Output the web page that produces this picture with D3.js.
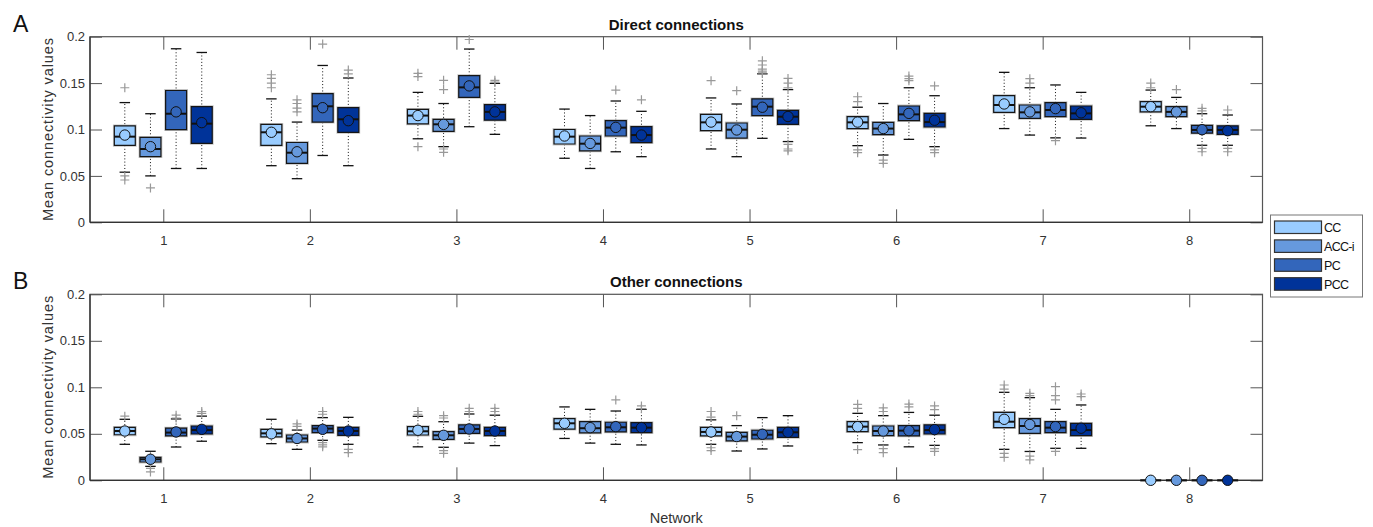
<!DOCTYPE html>
<html>
<head>
<meta charset="utf-8">
<script src="https://cdn.jsdelivr.net/npm/d3@7/dist/d3.min.js"></script>
<style>
  body { margin: 0; background: #fff; }
  text { font-family: "Liberation Sans", Arial, sans-serif; }
</style>
</head>
<body>
<div id="chart"></div>
<script>
// networks and methods
var networks = [1, 2, 3, 4, 5, 6, 7, 8];
var methods = ["CC", "ACC-i", "PC", "PCC"];
var yTicks = [0, 0.05, 0.1, 0.15, 0.2];

// each row: [lower whisker, q1, median, q3, upper whisker, mean]
var directCC = [
  [0.054, 0.083, 0.0923, 0.104, 0.129, 0.094],
  [0.061, 0.083, 0.097, 0.1056, 0.133, 0.097],
  [0.090, 0.106, 0.115, 0.1217, 0.140, 0.115],
  [0.069, 0.0844, 0.0923, 0.100, 0.122, 0.093],
  [0.079, 0.0987, 0.1077, 0.1163, 0.134, 0.108],
  [0.0826, 0.101, 0.1077, 0.1138, 0.124, 0.108],
  [0.101, 0.1185, 0.1264, 0.1364, 0.1616, 0.1275],
  [0.104, 0.119, 0.1246, 0.130, 0.1425, 0.1246]
];
var directACC = [
  [0.050, 0.0707, 0.079, 0.0916, 0.117, 0.0815],
  [0.047, 0.0636, 0.075, 0.086, 0.108, 0.076],
  [0.0815, 0.098, 0.1056, 0.111, 0.128, 0.1055],
  [0.058, 0.077, 0.0847, 0.093, 0.115, 0.085],
  [0.0707, 0.0908, 0.0998, 0.107, 0.1275, 0.0995],
  [0.0725, 0.0944, 0.101, 0.1077, 0.128, 0.101],
  [0.094, 0.112, 0.1185, 0.1264, 0.145, 0.119],
  [0.101, 0.1138, 0.119, 0.1246, 0.1346, 0.119]
];
var directPC = [
  [0.058, 0.0998, 0.117, 0.142, 0.187, 0.119],
  [0.072, 0.108, 0.125, 0.1386, 0.169, 0.1235],
  [0.103, 0.1347, 0.1454, 0.158, 0.1867, 0.147],
  [0.076, 0.093, 0.102, 0.1095, 0.1307, 0.1023],
  [0.0905, 0.115, 0.1246, 0.133, 0.160, 0.124],
  [0.0894, 0.1095, 0.1163, 0.1253, 0.145, 0.1174],
  [0.091, 0.1138, 0.121, 0.129, 0.148, 0.1225],
  [0.083, 0.096, 0.0995, 0.1045, 0.117, 0.0998]
];
var directPCC = [
  [0.058, 0.085, 0.1063, 0.1246, 0.183, 0.1074],
  [0.061, 0.097, 0.111, 0.1235, 0.1555, 0.1095],
  [0.0948, 0.110, 0.119, 0.1268, 0.1497, 0.119],
  [0.0707, 0.0858, 0.094, 0.103, 0.1196, 0.094],
  [0.087, 0.1056, 0.1138, 0.1206, 0.143, 0.114],
  [0.0815, 0.1027, 0.108, 0.1174, 0.1364, 0.110],
  [0.0908, 0.111, 0.1174, 0.1253, 0.140, 0.118],
  [0.083, 0.0948, 0.0995, 0.104, 0.1156, 0.0987]
];
var directCCOut = [[0.145, 0.050, 0.0456], [0.159, 0.155, 0.150, 0.145], [0.1605, 0.157, 0.0815], [], [0.1526], [0.1353, 0.130, 0.078, 0.075], [], [0.150, 0.145]];
var directACCOut = [[0.037], [0.132, 0.128, 0.123, 0.119], [0.153, 0.143, 0.079, 0.0754], [], [0.1418], [0.067, 0.0636], [0.1548, 0.150], [0.143]];
var directPCOut = [[], [0.192], [0.197], [0.1425], [0.174, 0.1695, 0.165, 0.163, 0.161], [0.1576, 0.1548, 0.1526], [0.088], [0.1228, 0.120, 0.0797, 0.076]];
var directPCCOut = [[], [0.164, 0.160], [0.153, 0.151], [0.132], [0.155, 0.150, 0.145, 0.084, 0.079, 0.077], [0.147, 0.078, 0.075], [], [0.121, 0.0797, 0.076]];

var otherCC = [
  [0.0387, 0.049, 0.053, 0.057, 0.0656, 0.053],
  [0.0394, 0.0466, 0.0505, 0.0548, 0.0656, 0.050],
  [0.036, 0.0487, 0.0527, 0.0577, 0.0688, 0.0538],
  [0.045, 0.055, 0.0613, 0.0663, 0.0789, 0.0613],
  [0.0387, 0.0477, 0.052, 0.057, 0.065, 0.052],
  [0.0405, 0.0523, 0.0577, 0.063, 0.072, 0.0577],
  [0.0333, 0.0566, 0.063, 0.073, 0.0946, 0.0656],
  [0, 0, 0, 0, 0, 0]
];
var otherACC = [
  [0.015, 0.0197, 0.0226, 0.0247, 0.0312, 0.0226],
  [0.0333, 0.0412, 0.045, 0.0487, 0.054, 0.045],
  [0.0355, 0.044, 0.0484, 0.0523, 0.063, 0.0484],
  [0.040, 0.051, 0.056, 0.063, 0.0763, 0.0566],
  [0.0315, 0.0423, 0.047, 0.0516, 0.0588, 0.047],
  [0.038, 0.048, 0.053, 0.0584, 0.0695, 0.053],
  [0.031, 0.0505, 0.0584, 0.0663, 0.0889, 0.060],
  [0, 0, 0, 0, 0, 0]
];
var otherPC = [
  [0.0358, 0.0477, 0.0513, 0.056, 0.066, 0.052],
  [0.043, 0.0513, 0.0556, 0.0588, 0.0674, 0.0548],
  [0.040, 0.0505, 0.0552, 0.0595, 0.0713, 0.0552],
  [0.0387, 0.052, 0.057, 0.0624, 0.0745, 0.0577],
  [0.0337, 0.0444, 0.049, 0.0538, 0.0674, 0.0495],
  [0.036, 0.0477, 0.0534, 0.0588, 0.073, 0.0534],
  [0.0344, 0.0513, 0.0566, 0.063, 0.0763, 0.0577],
  [0, 0, 0, 0, 0, 0]
];
var otherPCC = [
  [0.042, 0.0498, 0.054, 0.0584, 0.069, 0.0548],
  [0.0387, 0.0484, 0.053, 0.057, 0.0677, 0.053],
  [0.0373, 0.048, 0.053, 0.057, 0.070, 0.053],
  [0.038, 0.0513, 0.0566, 0.062, 0.0763, 0.0566],
  [0.0369, 0.0462, 0.0516, 0.057, 0.0695, 0.0516],
  [0.0376, 0.0498, 0.054, 0.0595, 0.070, 0.0545],
  [0.0344, 0.048, 0.054, 0.0613, 0.081, 0.056],
  [0, 0, 0, 0, 0, 0]
];
var otherCCOut = [[0.069], [], [0.074, 0.071], [], [0.074, 0.068, 0.035, 0.032], [0.0817, 0.0774, 0.033], [0.1025, 0.098, 0.029, 0.0247], []];
var otherACCOut = [[0.0129, 0.009], [0.0606, 0.058], [0.0695, 0.067, 0.032, 0.029], [], [0.0695], [0.0778, 0.074, 0.034, 0.0297], [0.0935, 0.091, 0.026, 0.022], []];
var otherPCOut = [[0.070, 0.067], [0.074, 0.071, 0.0405, 0.038, 0.036], [0.0774, 0.074], [0.0864], [], [0.082, 0.079], [0.1007, 0.091, 0.0864, 0.031], []];
var otherPCCOut = [[0.074, 0.072], [0.0333, 0.0297], [0.0774, 0.074], [0.080, 0.077], [], [0.080, 0.076, 0.034, 0.031], [0.0928, 0.090], []];

var colors = ["#99ccff", "#6699dd", "#3366bb", "#003399"];

var w = 1373, h = 527;
var left = 90, right = 1262.5;

var svg = d3.select("#chart").append("svg")
    .attr("width", w)
    .attr("height", h);

var x = d3.scaleLinear().domain([0.5, 8.5]).range([left, right]);
var offsets = [-0.2625, -0.0875, 0.0875, 0.2625];
var boxW = x(0.143) - x(0);

function drawPanel(top, bottom, title, letter, stats, outs, showXLabel) {
  var y = d3.scaleLinear().domain([0, 0.2]).range([bottom, top]);
  var g = svg.append("g");

  // axes, ticks pointing inward
  var ax = g.append("g").attr("transform", "translate(0," + bottom + ")")
      .call(d3.axisBottom(x).tickValues(networks).tickSize(-13).tickPadding(13));
  var at = g.append("g").attr("transform", "translate(0," + top + ")")
      .call(d3.axisTop(x).tickValues(networks).tickSize(-13).tickFormat(""));
  var al = g.append("g").attr("transform", "translate(" + left + ",0)")
      .call(d3.axisLeft(y).tickValues(yTicks).tickSize(-12).tickPadding(5).tickFormat(function(d) { return String(d); }));
  var ar = g.append("g").attr("transform", "translate(" + right + ",0)")
      .call(d3.axisRight(y).tickValues(yTicks).tickSize(-12).tickFormat(""));
  [ax, at, al, ar].forEach(function(a) {
    a.select(".domain").remove();
    a.selectAll(".tick line").attr("stroke", "#555");
    a.selectAll("text").attr("fill", "#333").style("font-size", "13px")
        .style("font-family", "'Liberation Sans', Arial, sans-serif");
  });
  g.append("rect")
      .attr("x", left).attr("y", top)
      .attr("width", right - left).attr("height", bottom - top)
      .attr("fill", "none").attr("stroke", "#555").attr("stroke-width", 1.2);
  g.append("line").attr("x1", left).attr("x2", right).attr("y1", bottom).attr("y2", bottom)
      .attr("stroke", "#333").attr("stroke-width", 1.3);
  g.append("line").attr("x1", left).attr("x2", left).attr("y1", top).attr("y2", bottom)
      .attr("stroke", "#333").attr("stroke-width", 1.3);

  g.append("text")
      .attr("x", (left + right) / 2).attr("y", top - 7)
      .attr("text-anchor", "middle")
      .style("font-size", "15px").style("font-weight", "bold")
      .attr("fill", "#111")
      .text(title);

  g.append("text")
      .attr("x", 13).attr("y", top - 5)
      .style("font-size", "23px").attr("fill", "#111")
      .text(letter);

  g.append("text")
      .attr("transform", "translate(53," + ((top + bottom) / 2) + ") rotate(-90)")
      .attr("text-anchor", "middle")
      .attr("textLength", 183).attr("lengthAdjust", "spacing")
      .style("font-size", "14.5px").attr("fill", "#333")
      .text("Mean connectivity values");

  if (showXLabel) {
    g.append("text")
        .attr("x", (left + right) / 2).attr("y", bottom + 43)
        .attr("text-anchor", "middle")
        .style("font-size", "14.5px").attr("fill", "#333")
        .text("Network");
  }

  methods.forEach(function(m, mi) {
    var rows = stats[mi].map(function(s, i) {
      return { cx: x(networks[i] + offsets[mi]), s: s, out: outs[mi][i] };
    });
    var mg = g.append("g");

    // dotted whiskers
    mg.selectAll(".wh").data(rows).enter().append("line")
        .attr("x1", function(d) { return d.cx; }).attr("x2", function(d) { return d.cx; })
        .attr("y1", function(d) { return y(d.s[0]); }).attr("y2", function(d) { return y(d.s[4]); })
        .attr("stroke", "#111").attr("stroke-width", 1)
        .attr("stroke-dasharray", "1,2.2");

    // caps
    [0, 4].forEach(function(k) {
      mg.selectAll(".cap" + k).data(rows).enter().append("line")
          .attr("x1", function(d) { return d.cx - boxW / 4; })
          .attr("x2", function(d) { return d.cx + boxW / 4; })
          .attr("y1", function(d) { return y(d.s[k]); })
          .attr("y2", function(d) { return y(d.s[k]); })
          .attr("stroke", "#111").attr("stroke-width", 1.3);
    });

    // outliers
    var pts = [];
    rows.forEach(function(d) { d.out.forEach(function(v) { pts.push({ cx: d.cx, v: v }); }); });
    mg.selectAll(".out").data(pts).enter().append("path")
        .attr("d", function(d) {
          var px = d.cx, py = y(d.v);
          return "M" + (px - 4.5) + "," + py + "H" + (px + 4.5) + "M" + px + "," + (py - 4.5) + "V" + (py + 4.5);
        })
        .attr("stroke", "#999").attr("stroke-width", 1.2).attr("fill", "none");

    // boxes
    function boxPath(d) {
      var x0 = d.cx - boxW / 2, x1 = d.cx + boxW / 2;
      return "M" + x0 + "," + y(d.s[3]) + "H" + x1 + "V" + y(d.s[1]) + "H" + x0 + "Z";
    }
    mg.selectAll(".halo").data(rows).enter().append("path")
        .attr("d", boxPath)
        .attr("fill", "none").attr("stroke", "#c4c4c4").attr("stroke-width", 2.8);
    mg.selectAll(".box").data(rows).enter().append("path")
        .attr("d", boxPath)
        .attr("fill", colors[mi]).attr("stroke", "#151515").attr("stroke-width", 1.2);

    // medians
    mg.selectAll(".med").data(rows).enter().append("line")
        .attr("x1", function(d) { return d.cx - boxW / 2; })
        .attr("x2", function(d) { return d.cx + boxW / 2; })
        .attr("y1", function(d) { return y(d.s[2]); })
        .attr("y2", function(d) { return y(d.s[2]); })
        .attr("stroke", "#111").attr("stroke-width", 2);

    // means
    mg.selectAll(".mean").data(rows).enter().append("circle")
        .attr("cx", function(d) { return d.cx; })
        .attr("cy", function(d) { return y(d.s[5]); })
        .attr("r", 5.2)
        .attr("fill", colors[mi]).attr("stroke", "#111").attr("stroke-width", 1);
  });
}

drawPanel(36.7, 222.3, "Direct connections", "A",
  [directCC, directACC, directPC, directPCC],
  [directCCOut, directACCOut, directPCOut, directPCCOut], false);
drawPanel(294.3, 480.3, "Other connections", "B",
  [otherCC, otherACC, otherPC, otherPCC],
  [otherCCOut, otherACCOut, otherPCOut, otherPCCOut], true);

// legend
var lg = svg.append("g");
lg.append("rect")
    .attr("x", 1270.5).attr("y", 215)
    .attr("width", 92).attr("height", 82)
    .attr("fill", "#fff").attr("stroke", "#777").attr("stroke-width", 1);
methods.forEach(function(m, i) {
  var yy = 221 + i * 18.9;
  lg.append("rect")
      .attr("x", 1274.5).attr("y", yy)
      .attr("width", 47).attr("height", 12.5)
      .attr("fill", colors[i]).attr("stroke", "#333").attr("stroke-width", 1.2);
  lg.append("text")
      .attr("x", 1324).attr("y", yy + 11)
      .style("font-size", "12.5px").style("letter-spacing", "-0.7px")
      .attr("fill", "#111")
      .text(m);
});
</script>
</body>
</html>
